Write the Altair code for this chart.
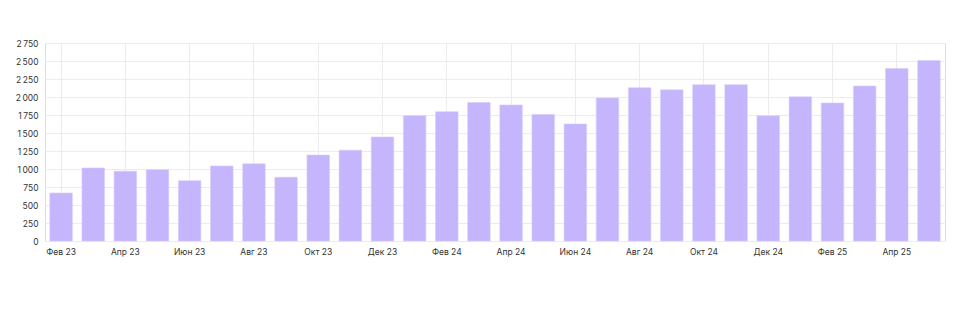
import altair as alt
import pandas as pd

months = ["Фев 23", "Мар 23", "Апр 23", "Май 23", "Июн 23", "Июл 23", "Авг 23", "Сен 23",
          "Окт 23", "Ноя 23", "Дек 23", "Янв 24", "Фев 24", "Мар 24", "Апр 24", "Май 24",
          "Июн 24", "Июл 24", "Авг 24", "Сен 24", "Окт 24", "Ноя 24", "Дек 24", "Янв 25",
          "Фев 25", "Мар 25", "Апр 25", "Май 25"]
values = [667, 1014, 970, 990, 837, 1042, 1072, 886,
          1194, 1262, 1444, 1740, 1795, 1922, 1889, 1758,
          1625, 1986, 2128, 2100, 2170, 2170, 1738, 2002,
          1917, 2153, 2395, 2508]
y_ticks = [0, 250, 500, 750, 1000, 1250, 1500, 1750, 2000, 2250, 2500, 2750]

df = pd.DataFrame({"month": months, "value": values})
label_months = months[::2]

chart = alt.Chart(df).mark_bar(
    color="#c4b5fd", stroke="#d6cbfe", strokeWidth=0.6
).encode(
    x=alt.X("month:N", sort=months, title=None,
            scale=alt.Scale(paddingInner=0.3, paddingOuter=0.15),
            axis=alt.Axis(values=label_months, bandPosition=0.5, labelAngle=0,
                          ticks=False, domain=False, grid=True, gridColor="#ececec",
                          labelFont="Inter", labelFontSize=8.5, labelColor="#333333",
                          labelPadding=6)),
    y=alt.Y("value:Q", title=None,
            scale=alt.Scale(domain=[0, 2750], nice=False),
            axis=alt.Axis(values=y_ticks, ticks=False, domain=False, grid=True,
                          gridColor="#ececec", labelFont="Inter", labelFontSize=8.5,
                          labelColor="#333333", labelPadding=7,
                          labelExpr="replace(format(datum.value, ','), ',', '\u2009')")),
).properties(
    width=900, height=198,
    autosize=alt.AutoSizeParams(type="none"),
    padding={"left": 45, "top": 43, "right": 29, "bottom": 75},
).configure_view(stroke="#e6e6e6", strokeWidth=1).configure(background="white")

chart.save("out.html", embed_options={"renderer": "svg", "actions": False})
